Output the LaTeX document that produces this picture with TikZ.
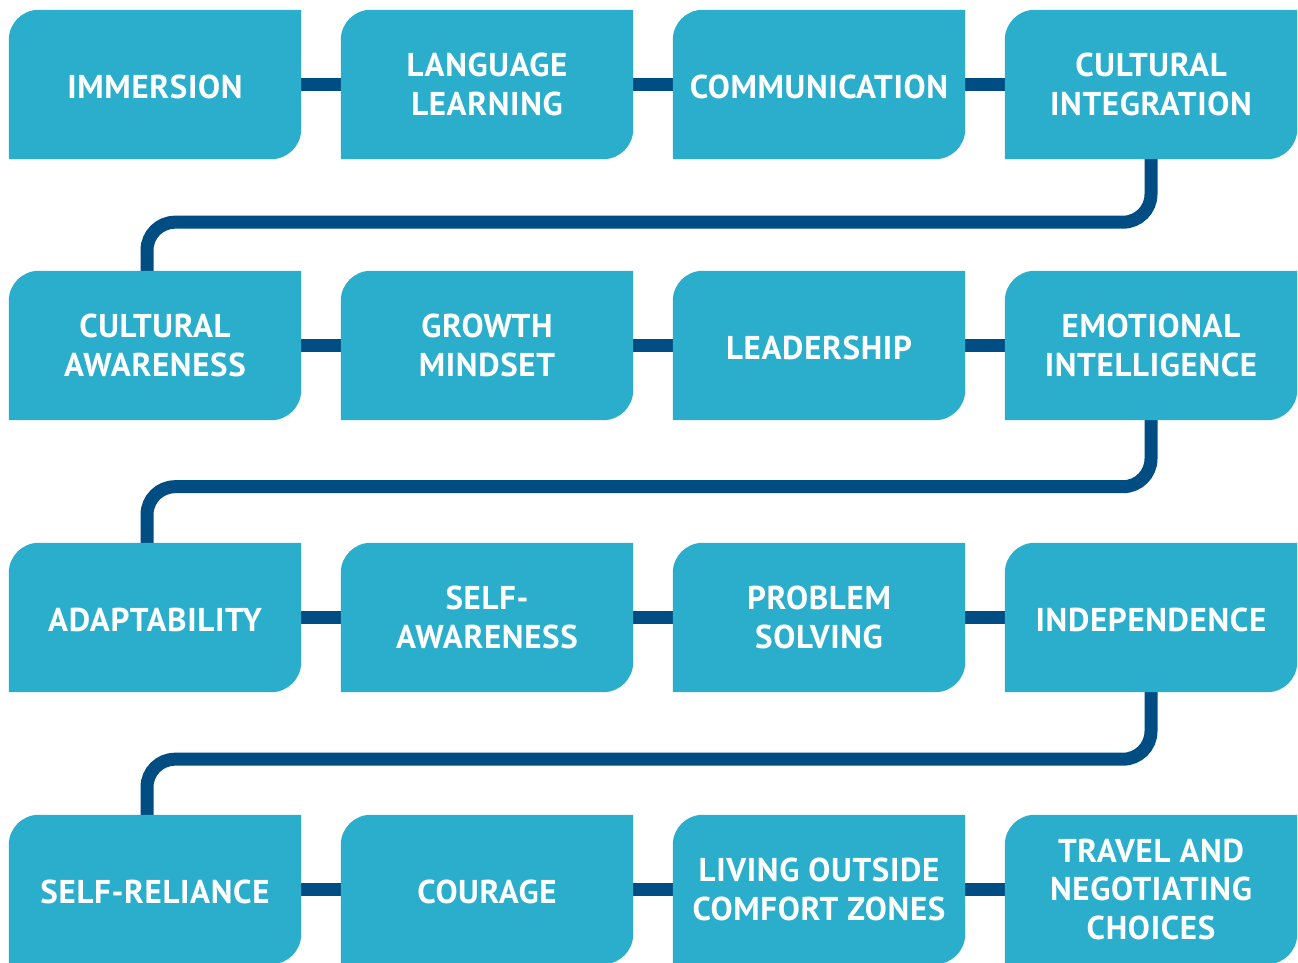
\documentclass[tikz,border=0pt]{standalone}
\usepackage{fontspec}
\setmainfont{PT Sans}[LetterSpace=2.0]
\usetikzlibrary{backgrounds}
\definecolor{boxfill}{HTML}{2AAECB}
\definecolor{linkblue}{HTML}{004D84}
\begin{document}
\begin{tikzpicture}[x=1pt,y=1pt,
  card/.style={minimum width=292pt, minimum height=149pt, inner sep=0pt,
    text=white, align=center,
    font=\fontsize{33}{38.5}\selectfont\bfseries,
    % a strut on the first line sets the text a little below centre
    execute at begin node={\rule{0pt}{28pt}}},
  link/.style={draw=linkblue, line width=13pt},
  rowturn/.style={link, rounded corners=28pt}]
\useasboundingbox (0,0) rectangle (1298,962);

% row 1
\node[card] (n11) at (155,877.5) {IMMERSION};
\node[card] (n12) at (487,877.5) {LANGUAGE\\LEARNING};
\node[card] (n13) at (819,877.5) {COMMUNICATION};
\node[card] (n14) at (1151,877.5) {CULTURAL\\INTEGRATION};
% row 2
\node[card] (n21) at (155,616.5) {CULTURAL\\AWARENESS};
\node[card] (n22) at (487,616.5) {GROWTH\\MINDSET};
\node[card] (n23) at (819,616.5) {LEADERSHIP};
\node[card] (n24) at (1151,616.5) {EMOTIONAL\\INTELLIGENCE};
% row 3
\node[card] (n31) at (155,344.5) {ADAPTABILITY};
\node[card] (n32) at (487,344.5) {SELF-\\AWARENESS};
\node[card] (n33) at (819,344.5) {PROBLEM\\SOLVING};
\node[card] (n34) at (1151,344.5) {INDEPENDENCE};
% row 4
\node[card] (n41) at (155,72.5) {SELF-RELIANCE};
\node[card] (n42) at (487,72.5) {COURAGE};
\node[card] (n43) at (819,72.5) {LIVING OUTSIDE\\COMFORT ZONES};
\node[card] (n44) at (1151,72.5) {TRAVEL AND\\NEGOTIATING\\CHOICES};

\begin{scope}[on background layer]
  % links within each row
  \foreach \r in {1,2,3,4}{
    \draw[link] (n\r1.east) -- (n\r2.west);
    \draw[link] (n\r2.east) -- (n\r3.west);
    \draw[link] (n\r3.east) -- (n\r4.west);
  }
  % links turning from one row to the next
  \draw[rowturn] (n14.south) -- ++(0,-63) -| ([xshift=-8pt]n21.north);
  \draw[rowturn] (n24.south) -- ++(0,-66.5) -| ([xshift=-8pt]n31.north);
  \draw[rowturn] (n34.south) -- ++(0,-67) -| ([xshift=-8pt]n41.north);
  % card shapes: rounded top-left and bottom-right corners
  \foreach \n in {n11,n12,n13,n14,n21,n22,n23,n24,n31,n32,n33,n34,n41,n42,n43,n44}{
    \fill[boxfill] (\n.south west) -- ([yshift=-30pt]\n.north west)
      arc[start angle=180, end angle=90, radius=30pt] -- (\n.north east)
      -- ([yshift=30pt]\n.south east)
      arc[start angle=0, end angle=-90, radius=30pt] -- cycle;
  }
\end{scope}
\end{tikzpicture}
\end{document}
